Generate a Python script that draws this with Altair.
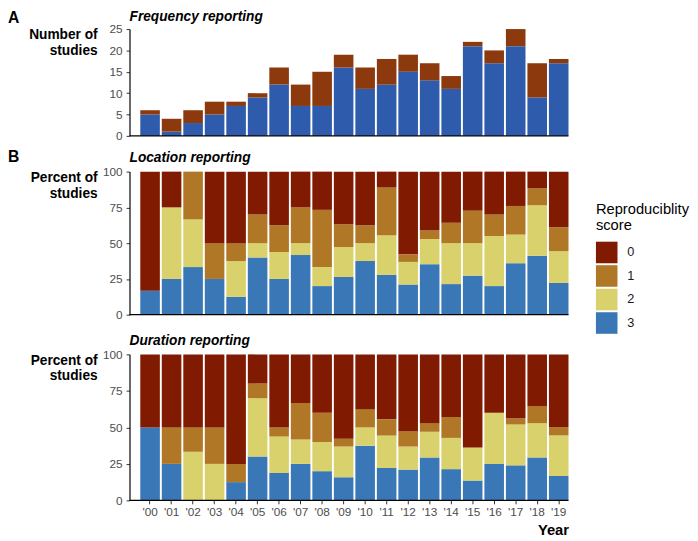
import altair as alt
import pandas as pd

years = ["'00", "'01", "'02", "'03", "'04", "'05", "'06", "'07", "'08", "'09",
         "'10", "'11", "'12", "'13", "'14", "'15", "'16", "'17", "'18", "'19"]

# Panel A: number of studies
freq_reported = [5, 1, 3, 5, 7, 9, 12, 7, 7, 16, 11, 12, 15, 13, 11, 21, 17, 21, 9, 17]
freq_total = [6, 4, 6, 8, 8, 10, 16, 12, 15, 19, 16, 18, 19, 17, 14, 22, 20, 25, 17, 18]

# Panel B: location reporting (percent of studies by score)
loc_3 = [16.7, 25, 33.3, 25, 12.5, 40, 25, 41.7, 20, 26.3, 37.5, 27.8, 21.1, 35.3, 21.4, 27.3, 20, 36, 41.2, 22.2]
loc_2 = [0, 50, 33.3, 0, 25, 10, 18.75, 8.3, 13.3, 21.1, 12.5, 27.8, 15.8, 17.6, 28.6, 22.7, 35, 20, 35.3, 22.2]
loc_1 = [0, 0, 33.4, 25, 12.5, 20, 18.75, 25, 40, 15.8, 12.5, 33.3, 5.3, 5.9, 14.3, 22.7, 15, 20, 11.8, 16.7]
loc_0 = [83.3, 25, 0, 50, 50, 30, 37.5, 25, 26.7, 36.8, 37.5, 11.1, 57.8, 41.2, 35.7, 27.3, 30, 24, 11.7, 38.9]

# Duration reporting (percent of studies by score)
dur_3 = [50, 25, 0, 0, 12.5, 30, 18.75, 25, 20, 15.8, 37.5, 22.2, 21.1, 29.4, 21.4, 13.6, 25, 24, 29.4, 16.7]
dur_2 = [0, 0, 33.3, 25, 0, 40, 25, 16.7, 20, 21.1, 12.5, 22.2, 15.8, 17.6, 21.4, 22.7, 35, 28, 23.5, 27.8]
dur_1 = [0, 25, 16.7, 25, 12.5, 10, 6.25, 25, 20, 5.3, 12.5, 11.1, 10.5, 5.9, 14.3, 0, 0, 4, 11.8, 5.6]
dur_0 = [50, 50, 50, 50, 75, 20, 50, 33.3, 40, 57.8, 37.5, 44.4, 52.6, 47.1, 42.9, 63.6, 40, 44, 35.3, 49.9]

scores = ["0", "1", "2", "3"]
score_colors = ["#801a00", "#af7726", "#d9d16b", "#3977b7"]
freq_blue = "#2e5bab"
freq_brown = "#8b390d"

W = 448
H_A, H_B, H_C = 109, 146, 149
FONT = "Liberation Sans"

freq_df = pd.DataFrame({"year": years, "reported": freq_reported, "total": freq_total})


def pct_frame(s3, s2, s1, s0):
    out = []
    for i, y in enumerate(years):
        for sc, arr, o in (("3", s3, 0), ("2", s2, 1), ("1", s1, 2), ("0", s0, 3)):
            out.append({"year": y, "score": sc, "pct": arr[i], "ord": o})
    return pd.DataFrame(out)


loc_df = pct_frame(loc_3, loc_2, loc_1, loc_0)
dur_df = pct_frame(dur_3, dur_2, dur_1, dur_0)

xscale = alt.Scale(range=[11, W], paddingInner=0.09, paddingOuter=0)


def yaxis(title, values):
    return alt.Axis(values=values, title=title, titleAngle=0, titleAlign="right",
                    titleBaseline="top", titleX=-33, titleY=-1, titleFontSize=14,
                    titleFontWeight="bold", titleColor="black", titleLineHeight=16,
                    labelFontSize=12, labelColor="#4d4d4d", tickSize=3.5,
                    tickColor="#333333", labelPadding=4, domainColor="black",
                    domainWidth=1.2, grid=False)


legend = alt.Legend(orient="none", legendX=476, legendY=177,
                    title=["Reproduciblity", "score"], titleFontSize=15,
                    titleFontWeight="normal", titleColor="black",
                    titleLineHeight=16, titlePadding=9,
                    labelFontSize=13, labelColor="#1a1a1a",
                    symbolType="square", symbolSize=484,
                    symbolStrokeWidth=0, symbolOpacity=1,
                    rowPadding=2, labelOffset=10)

one = pd.DataFrame({"t": ["x"]})


def xrule(h):
    return alt.Chart(one).mark_rule(color="black", strokeWidth=1.2).encode(
        x=alt.value(0), x2=alt.value(W), y=alt.value(h))


def label_text(t, xv, yv, size, italic=False, color="black"):
    return alt.Chart(pd.DataFrame({"t": [t]})).mark_text(
        align="left", baseline="alphabetic", fontSize=size, fontWeight="bold",
        fontStyle="italic" if italic else "normal", color=color).encode(
        x=alt.value(xv), y=alt.value(yv), text="t:N")


yA = alt.Scale(domain=[0, 25], nice=False)
axisA = yaxis(["Number of", "studies"], [0, 5, 10, 15, 20, 25])
barsA_blue = alt.Chart(freq_df).mark_bar(color=freq_blue).encode(
    x=alt.X("year:N", sort=years, scale=xscale, axis=None),
    y=alt.Y("reported:Q", scale=yA, axis=axisA),
)
barsA_brown = alt.Chart(freq_df).mark_bar(color=freq_brown).encode(
    x=alt.X("year:N", sort=years, scale=xscale, axis=None),
    y=alt.Y("total:Q", scale=yA, axis=axisA),
    y2="reported:Q",
)
panelA = alt.layer(
    barsA_blue, barsA_brown, xrule(H_A),
    label_text("A", -124, -6, 16),
    label_text("Frequency reporting", 0, -8, 14, italic=True),
).properties(width=W, height=H_A)

barsB = alt.Chart(loc_df).mark_bar().encode(
    x=alt.X("year:N", sort=years, scale=xscale, axis=None),
    y=alt.Y("pct:Q", stack="zero", scale=alt.Scale(domain=[0, 100], nice=False),
            axis=yaxis(["Percent of", "studies"], [0, 25, 50, 75, 100])),
    color=alt.Color("score:N", scale=alt.Scale(domain=scores, range=score_colors),
                    legend=legend),
    order=alt.Order("ord:Q"),
)
panelB = alt.layer(
    barsB, xrule(H_B),
    label_text("B", -124, -10, 16),
    label_text("Location reporting", 0, -10, 14, italic=True),
).properties(width=W, height=H_B)

barsC = alt.Chart(dur_df).mark_bar().encode(
    x=alt.X("year:N", sort=years, scale=xscale,
            axis=alt.Axis(title="Year", labelAngle=0, domain=False, ticks=True,
                          tickSize=3.5, tickColor="#333333", labelFontSize=12,
                          labelColor="#4d4d4d", labelPadding=3, titleAnchor="end",
                          titleAlign="right", titleFontSize=15, titleFontWeight="bold",
                          titleColor="black", titlePadding=5)),
    y=alt.Y("pct:Q", stack="zero", scale=alt.Scale(domain=[0, 100], nice=False),
            axis=yaxis(["Percent of", "studies"], [0, 25, 50, 75, 100])),
    color=alt.Color("score:N", scale=alt.Scale(domain=scores, range=score_colors),
                    legend=legend),
    order=alt.Order("ord:Q"),
)
panelC = alt.layer(
    barsC, xrule(H_C),
    label_text("B", -124, -14, 16, color="white"),
    label_text("Duration reporting", 0, -10, 14, italic=True),
).properties(width=W, height=H_C)

chart = alt.vconcat(
    panelA, panelB, panelC, spacing=7.5,
    padding={"top": -3, "left": 0, "right": 0, "bottom": 0},
).configure(font=FONT).configure_view(strokeWidth=0)

chart.save("out.html", embed_options={"renderer": "svg", "actions": False})
